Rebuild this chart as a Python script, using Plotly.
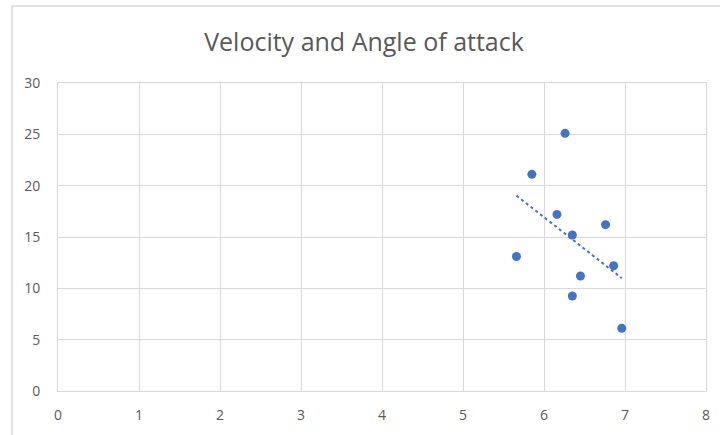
import numpy as np
import plotly.graph_objects as go

# Data
velocity = [5.66, 5.85, 6.16, 6.26, 6.35, 6.35, 6.45, 6.76, 6.86, 6.96]
angle = [13.1, 21.1, 17.2, 25.1, 15.2, 9.25, 11.2, 16.2, 12.2, 6.1]

title_text = "Velocity and Angle of attack"
x_ticks = [0, 1, 2, 3, 4, 5, 6, 7, 8]
y_ticks = [0, 5, 10, 15, 20, 25, 30]

blue = "#4472C4"
grey_text = "#595959"
grid = "#D9D9D9"
font_family = "Open Sans, Liberation Sans, sans-serif"

# linear trendline computed from the data
slope, intercept = np.polyfit(velocity, angle, 1)
tx = [min(velocity), max(velocity)]
ty = [slope * v + intercept for v in tx]

fig = go.Figure()
fig.add_trace(go.Scatter(
    x=tx, y=ty, mode="lines",
    line=dict(color=blue, width=2, dash="dot"),
    hoverinfo="skip", showlegend=False,
))
fig.add_trace(go.Scatter(
    x=velocity, y=angle, mode="markers",
    marker=dict(color=blue, size=9, line=dict(width=0)),
    showlegend=False,
))

L, R, T, B = 58, 14, 83, 44
W, H = 720, 435
pw = W - L - R
ph = H - T - B

# chart-area border (left and top visible in reference)
fig.add_shape(
    type="rect", xref="paper", yref="paper",
    x0=(12 - L) / pw, x1=(W + 20 - L) / pw,
    y0=(H - T - (H + 20)) / ph, y1=(H - B - 6) / ph,
    line=dict(color=grid, width=1.5), fillcolor="rgba(0,0,0,0)", layer="below",
)

fig.update_layout(
    width=W, height=H,
    margin=dict(l=L, r=R, t=T, b=B, autoexpand=False),
    paper_bgcolor="white", plot_bgcolor="white",
    font=dict(family=font_family, color=grey_text, size=14),
    title=dict(
        text=title_text, xref="container", x=364 / W, xanchor="center",
        yref="container", y=1 - 42 / H, yanchor="middle",
        font=dict(size=25, color=grey_text, family=font_family),
    ),
    xaxis=dict(
        range=[0, 8], tickvals=x_ticks, ticktext=[str(v) for v in x_ticks],
        showgrid=True, gridcolor=grid, gridwidth=1,
        showline=True, linecolor=grid, linewidth=1, mirror=True,
        zeroline=False, ticks="", ticklabelstandoff=11, automargin=False,
        tickfont=dict(size=14, color=grey_text),
        fixedrange=True,
    ),
    yaxis=dict(
        range=[0, 30], tickvals=y_ticks, ticktext=[str(v) for v in y_ticks],
        showgrid=True, gridcolor=grid, gridwidth=1,
        showline=True, linecolor=grid, linewidth=1, mirror=True,
        zeroline=False, ticks="", ticklabelstandoff=14, automargin=False,
        tickfont=dict(size=14, color=grey_text),
        fixedrange=True,
    ),
    hovermode=False,
)

fig.write_html("out.html")
